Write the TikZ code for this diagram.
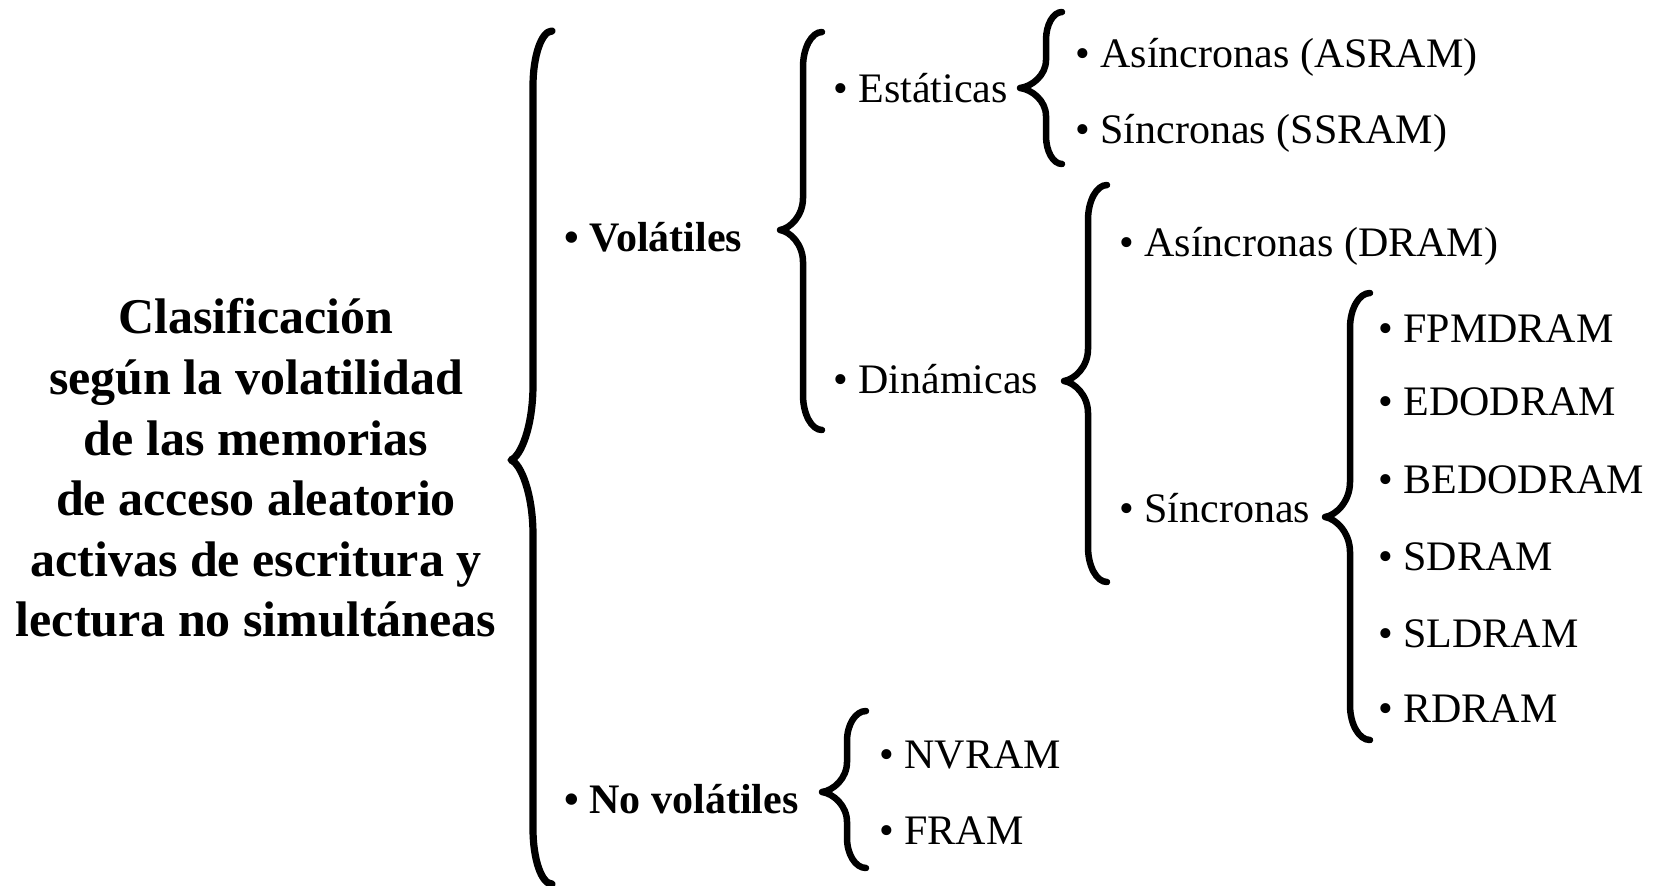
\documentclass[tikz,border=0pt]{standalone}
\usepackage{fontspec}
\setmainfont{Liberation Serif}
\newcommand{\curlybrace}[8]{%
  \draw[bracestyle] (#1,#4) .. controls ({#2+0.45*(#1-#2)},#4) and (#2,{#4+0.45*#7}) .. (#2,{#4+#7})
   -- (#2,{#5-#8})
   .. controls (#2,{#5-0.45*#8}) and ({#3+0.45*(#2-#3)},{#5-0.05*#8}) .. (#3,#5)
   .. controls ({#3+0.45*(#2-#3)},{#5+0.05*#8}) and (#2,{#5+0.45*#8}) .. (#2,{#5+#8})
   -- (#2,{#6-#7})
   .. controls (#2,{#6-0.45*#7}) and ({#2+0.45*(#1-#2)},#6) .. (#1,#6);}
\begin{document}
\begin{tikzpicture}[x=0.5pt,y=-0.5pt,
  bracestyle/.style={line width=3.25pt, line cap=round, line join=round},
  item/.style={anchor=base west, inner sep=0pt, font=\fontsize{21}{25}\selectfont},
  bitem/.style={item, font=\fontsize{21}{25}\selectfont\bfseries},
  titlebox/.style={align=center, inner sep=0pt, font=\fontsize{25}{30.3}\selectfont\bfseries}]
\useasboundingbox (0,0) rectangle (1660,885);
\fill[white] (0,0) rectangle (1660,885);

\node[titlebox] (title) at (256,468) {Clasificación\\según la volatilidad\\de las memorias\\de acceso aleatorio\\activas de escritura y\\lectura no simultáneas};

\node[bitem] (vol) at (564,251) {• Volátiles};
\node[bitem] (novol) at (564,813) {• No volátiles};

\node[item] (est) at (833,102) {• Estáticas};
\node[item] (din) at (833,393) {• Dinámicas};

\node[item] (asram) at (1075,67) {• Asíncronas (ASRAM)};
\node[item] (ssram) at (1075,143) {• Síncronas (SSRAM)};

\node[item] (dram) at (1119,256) {• Asíncronas (DRAM)};
\node[item] (sinc) at (1119,522) {• Síncronas};

\node[item] (fpm) at (1378,342) {• FPMDRAM};
\node[item] (edo) at (1378,415) {• EDODRAM};
\node[item] (bedo) at (1378,493) {• BEDODRAM};
\node[item] (sd) at (1378,570) {• SDRAM};
\node[item] (sld) at (1378,647) {• SLDRAM};
\node[item] (rd) at (1378,722) {• RDRAM};

\node[item] (nv) at (879,768) {• NVRAM};
\node[item] (fr) at (879,844) {• FRAM};

\begin{scope}[bracestyle/.append style={line width=3.6pt}]
\curlybrace{552}{533}{511}{31}{460}{884}{55}{75}
\end{scope}
\curlybrace{822}{803}{780}{32}{230}{430}{35}{32}
\curlybrace{1062}{1046}{1020}{12}{88}{164}{28}{28}
\curlybrace{1107}{1088}{1064}{185}{381}{582}{35}{32}
\curlybrace{1370}{1350}{1325}{293}{517}{740}{35}{35}
\curlybrace{866}{847}{822}{711}{792}{868}{30}{30}
\end{tikzpicture}
\end{document}
